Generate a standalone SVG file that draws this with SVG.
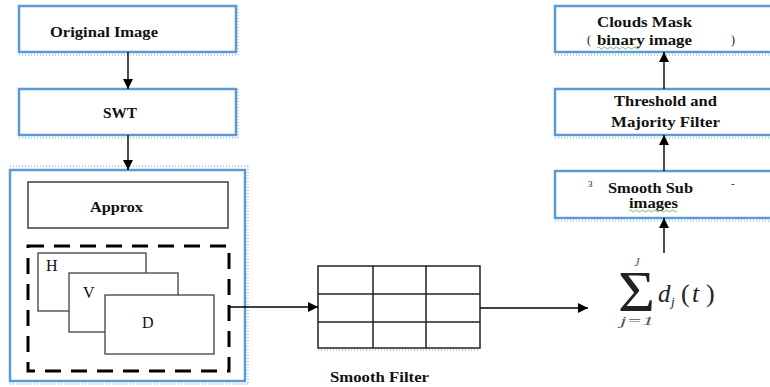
<svg xmlns="http://www.w3.org/2000/svg" width="770" height="387" viewBox="0 0 770 387">
<defs>
<marker id="ah" viewBox="0 0 10 10" refX="10" refY="5" markerWidth="10" markerHeight="10" markerUnits="userSpaceOnUse" orient="auto">
<path d="M0,0 L10,5 L0,10 Z" fill="#000"/>
</marker>
<style>
.bb{fill:#fff;stroke:#5b9bd5;stroke-width:2.5}
.gb{fill:#fff;stroke:#404040;stroke-width:1.3}
.t{font-family:"Liberation Serif",serif;font-weight:bold;font-size:15px;fill:#111}
.r{font-family:"Liberation Serif",serif;fill:#111}
.m{font-family:"Liberation Serif",serif;fill:#222}
.c{stroke:#000;stroke-width:1.4;fill:none}
.dot{stroke:#9cc3e6;stroke-width:1.5;stroke-dasharray:1 2;fill:none}
</style>
</defs>
<rect width="770" height="387" fill="#fff"/>

<g id="dots">
<path class="dot" d="M19,55 H238 M238,6 V55 M19,138 H238 M238,89 V138 M10,166 H248 M248,166 V385 M10,384 H248 M30,230 H230 M230,182 V230 M555,55 H770 M555,138 H770 M555,221 H770 M318,350 H480"/>
</g>

<g id="original">
<rect class="bb" x="19" y="6" width="217" height="46"/>
<text class="t" x="50" y="37" textLength="108" lengthAdjust="spacingAndGlyphs">Original Image</text>
</g>
<g id="swt">
<rect class="bb" x="19" y="89" width="217" height="46"/>
<text class="t" x="103" y="118" textLength="34" lengthAdjust="spacingAndGlyphs">SWT</text>
</g>
<g id="container">
<rect class="bb" x="10" y="170" width="235" height="211"/>
</g>
<g id="approx">
<rect class="gb" x="28" y="182" width="200" height="46" style="stroke-width:1.5"/>
<text class="t" x="90" y="212" textLength="53" lengthAdjust="spacingAndGlyphs">Approx</text>
</g>
<g id="details">
<rect x="28" y="246" width="201" height="125" fill="none" stroke="#000" stroke-width="3" stroke-dasharray="16 10"/>
</g>
<g id="H">
<rect class="gb" x="38" y="253" width="108" height="58"/>
<text class="r" x="46" y="271" style="font-size:16px">H</text>
</g>
<g id="V">
<rect class="gb" x="69" y="273" width="109" height="59"/>
<text class="r" x="83" y="298" style="font-size:16px">V</text>
</g>
<g id="D">
<rect class="gb" x="105" y="295" width="109" height="59"/>
<text class="r" x="142" y="328" style="font-size:16px">D</text>
</g>

<g id="smoothfilter">
<rect x="318" y="266" width="162" height="82" fill="#fff" stroke="#222" stroke-width="1.5"/>
<path d="M373,266 V348 M426,266 V348 M318,294 H480 M318,322 H480" stroke="#222" stroke-width="1.5"/>
<text class="t" x="330" y="382" textLength="99" lengthAdjust="spacingAndGlyphs">Smooth Filter</text>
</g>

<g id="sum">
<text class="m" x="618" y="311" style="font-size:56px" textLength="37" lengthAdjust="spacingAndGlyphs">Σ</text>
<text class="m" x="637" y="266" style="font-size:12px;font-style:italic;fill:#555" text-anchor="middle">J</text>
<text class="m" x="620" y="325" style="font-size:12px;font-style:italic;fill:#555" textLength="34" lengthAdjust="spacingAndGlyphs">j=1</text>
<text class="m" x="658" y="302" style="font-size:25px;font-style:italic">d</text>
<text class="m" x="671" y="306" style="font-size:13px;font-style:italic">j</text>
<text class="m" x="681" y="302" style="font-size:26px">(</text>
<text class="m" x="692" y="302" style="font-size:26px;font-style:italic">t</text>
<text class="m" x="706" y="302" style="font-size:26px">)</text>
</g>

<g id="smoothsub">
<rect class="bb" x="555" y="171" width="220" height="47"/>
<text class="r" x="588" y="187" style="font-size:9px">3</text>
<text class="t" x="608" y="193" textLength="85" lengthAdjust="spacingAndGlyphs">Smooth Sub</text>
<text class="r" x="731" y="187" style="font-size:11px">-</text>
<text class="t" x="629" y="208" textLength="49" lengthAdjust="spacingAndGlyphs">images</text>
<path d="M629,211 q1.5,-2 3,0 t3,0 t3,0 t3,0 t3,0 t3,0 t3,0 t3,0 t3,0 t3,0 t3,0 t3,0 t3,0 t3,0 t3,0 t3,0" fill="none" stroke="#5a5" stroke-width="0.8"/>
</g>
<g id="threshold">
<rect class="bb" x="555" y="89" width="220" height="46"/>
<text class="t" x="614" y="106" textLength="103" lengthAdjust="spacingAndGlyphs">Threshold and</text>
<text class="t" x="611" y="127" textLength="109" lengthAdjust="spacingAndGlyphs">Majority Filter</text>
</g>
<g id="clouds">
<rect class="bb" x="555" y="6" width="220" height="46"/>
<text class="t" x="597" y="27" textLength="95" lengthAdjust="spacingAndGlyphs">Clouds Mask</text>
<text class="r" x="587" y="44" style="font-size:12px">(</text>
<text class="t" x="597" y="45" textLength="95" lengthAdjust="spacingAndGlyphs">binary image</text>
<text class="r" x="731" y="44" style="font-size:12px">)</text>
<path d="M597,48 q1.5,-2 3,0 t3,0 t3,0 t3,0 t3,0 t3,0 t3,0 t3,0 t3,0 t3,0 t3,0 t3,0 t3,0 t3,0" fill="none" stroke="#5a5" stroke-width="0.8"/>
</g>

<g id="connectors">
<line class="c" x1="128" y1="52" x2="128" y2="89" marker-end="url(#ah)"/>
<line class="c" x1="128" y1="135" x2="128" y2="170" marker-end="url(#ah)"/>
<line class="c" x1="229" y1="307" x2="318" y2="307" marker-end="url(#ah)"/>
<line class="c" x1="480" y1="308" x2="588" y2="308" marker-end="url(#ah)"/>
<line class="c" x1="664" y1="253" x2="664" y2="218" marker-end="url(#ah)"/>
<line class="c" x1="664" y1="171" x2="664" y2="135" marker-end="url(#ah)"/>
<line class="c" x1="664" y1="89" x2="664" y2="52" marker-end="url(#ah)"/>
</g>
</svg>
